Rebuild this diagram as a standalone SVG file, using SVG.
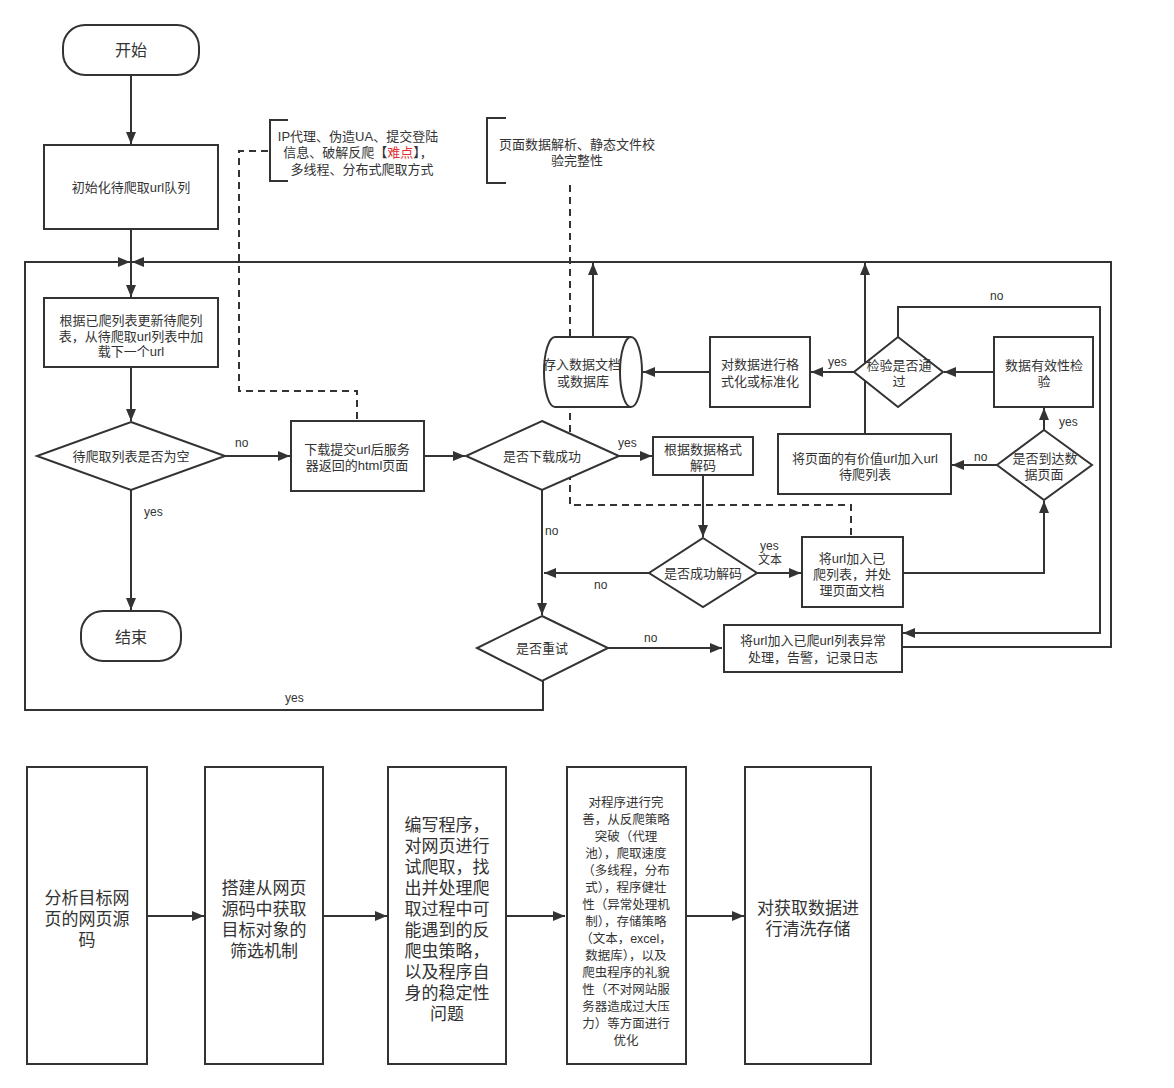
<svg xmlns="http://www.w3.org/2000/svg" width="1174" height="1088" viewBox="0 0 1174 1088">
<style>
.n{fill:#fff;stroke:#333;stroke-width:2}
.t{font-family:"Liberation Sans","Noto Sans CJK SC",sans-serif;font-size:13px;fill:#333;text-anchor:middle}
.b{font-size:17px}
.s{font-size:12.5px}
.c{fill:none;stroke:#333;stroke-width:2}
.d{fill:none;stroke:#333;stroke-width:2;stroke-dasharray:7 5}
.l{font-family:"Liberation Sans","Noto Sans CJK SC",sans-serif;font-size:12px;fill:#333}
</style>
<defs>
<marker id="a" markerWidth="12" markerHeight="10" refX="12" refY="5" orient="auto" markerUnits="userSpaceOnUse"><path d="M0,0 L12,5 L0,10 Z" fill="#333"/></marker>
</defs>
<rect width="1174" height="1088" fill="#fff"/>
<g id="connectors">
<path class="c" d="M131,75 V144" marker-end="url(#a)"/>
<path class="c" d="M131,229 V262"/>
<path class="c" d="M131,262 V297" marker-end="url(#a)"/>
<path class="c" d="M543,681 V710 H25 V262 H130" marker-end="url(#a)"/>
<path class="c" d="M902,647 H1111 V262 H132" marker-end="url(#a)"/>
<path class="c" d="M131,367 V421" marker-end="url(#a)"/>
<path class="c" d="M225,456 H290" marker-end="url(#a)"/>
<path class="c" d="M131,490 V610" marker-end="url(#a)"/>
<path class="c" d="M424,456 H465" marker-end="url(#a)"/>
<path class="c" d="M619,456 H652" marker-end="url(#a)"/>
<path class="c" d="M703,475 V537" marker-end="url(#a)"/>
<path class="c" d="M649,573 H544" marker-end="url(#a)"/>
<path class="c" d="M757,573 H801" marker-end="url(#a)"/>
<path class="c" d="M542,490 V615" marker-end="url(#a)"/>
<path class="c" d="M608,648 H722" marker-end="url(#a)"/>
<path class="c" d="M903,573 H1044 V501" marker-end="url(#a)"/>
<path class="c" d="M1044,430 V408" marker-end="url(#a)"/>
<path class="c" d="M997,465 H952" marker-end="url(#a)"/>
<path class="c" d="M993,372 H944" marker-end="url(#a)"/>
<path class="c" d="M854,372 H811" marker-end="url(#a)"/>
<path class="c" d="M710,372 H643" marker-end="url(#a)"/>
<path class="c" d="M593,337 V263" marker-end="url(#a)"/>
<path class="c" d="M865,434 V263" marker-end="url(#a)"/>
<path class="c" d="M898,337 V307 H1100 V633 H903" marker-end="url(#a)"/>
<path class="d" d="M268,151 H239 V391 H357 V420"/>
<path class="d" d="M570,185 V505 H851 V536"/>
<path class="c" d="M147,916 H204" marker-end="url(#a)"/>
<path class="c" d="M323,916 H387" marker-end="url(#a)"/>
<path class="c" d="M506,916 H565" marker-end="url(#a)"/>
<path class="c" d="M686,916 H744" marker-end="url(#a)"/>
<text class="l" x="235" y="447">no</text>
<text class="l" x="144" y="516">yes</text>
<text class="l" x="618" y="447">yes</text>
<text class="l" x="545" y="535">no</text>
<text class="l" x="594" y="589">no</text>
<text class="l" x="760" y="550">yes</text>
<text class="l" x="758" y="564">文本</text>
<text class="l" x="644" y="642">no</text>
<text class="l" x="285" y="702">yes</text>
<text class="l" x="828" y="366">yes</text>
<text class="l" x="990" y="300">no</text>
<text class="l" x="1059" y="426">yes</text>
<text class="l" x="974" y="461">no</text>
</g>
<g id="start"><rect class="n" x="63" y="25" width="136" height="50" rx="22"/><text class="t" style="font-size:16px" x="131" y="56">开始</text></g>
<g id="init"><rect class="n" x="44" y="145" width="174" height="84"/><text class="t" x="131" y="192">初始化待爬取url队列</text></g>
<g id="note1"><path class="c" d="M288,120 H270 V181 H288"/><text class="t" x="358" y="141">IP代理、伪造UA、提交登陆</text><text class="t" x="358" y="157">信息、破解反爬【<tspan fill="#e03030">难点</tspan>】，</text><text class="t" x="362" y="174">多线程、分布式爬取方式</text></g>
<g id="note2"><path class="c" d="M506,118 H487 V183 H506"/><text class="t" x="577" y="149">页面数据解析、静态文件校</text><text class="t" x="577" y="165">验完整性</text></g>
<g id="update"><rect class="n" x="44" y="298" width="174" height="69"/><text class="t" x="131" y="325">根据已爬列表更新待爬列</text><text class="t" x="131" y="341">表，从待爬取url列表中加</text><text class="t" x="131" y="356">载下一个url</text></g>
<g id="empty"><path class="n" d="M131,422 L225,456 L131,490 L37,456 Z"/><text class="t" x="131" y="461">待爬取列表是否为空</text></g>
<g id="end"><rect class="n" x="81" y="611" width="100" height="50" rx="22"/><text class="t" style="font-size:16px" x="131" y="643">结束</text></g>
<g id="download"><rect class="n" x="291" y="421" width="133" height="70"/><text class="t" x="357" y="454">下载提交url后服务</text><text class="t" x="357" y="470">器返回的html页面</text></g>
<g id="dlok"><path class="n" d="M542,421 L619,456 L542,490 L466,456 Z"/><text class="t" x="542" y="461">是否下载成功</text></g>
<g id="decode"><rect class="n" x="653" y="437" width="100" height="38"/><text class="t" x="703" y="454">根据数据格式</text><text class="t" x="703" y="470">解码</text></g>
<g id="decodeok"><path class="n" d="M703,538 L757,573 L703,607 L649,573 Z"/><text class="t" x="703" y="578">是否成功解码</text></g>
<g id="addcrawled"><rect class="n" x="802" y="537" width="101" height="70"/><text class="t" x="852" y="563">将url加入已</text><text class="t" x="852" y="579">爬列表，并处</text><text class="t" x="852" y="595">理页面文档</text></g>
<g id="retry"><path class="n" d="M542,616 L608,648 L542,681 L477,648 Z"/><text class="t" x="542" y="653">是否重试</text></g>
<g id="error"><rect class="n" x="724" y="625" width="178" height="47"/><text class="t" x="813" y="645">将url加入已爬url列表异常</text><text class="t" x="813" y="662">处理，告警，记录日志</text></g>
<g id="store"><path class="n" d="M555,337 H631 A11,35 0 0 1 631,407 H555 A11,35 0 0 1 555,337 Z"/><path class="c" d="M631,337 A11,35 0 0 0 631,407"/><text class="t" x="582" y="369">存入数据文档</text><text class="t" x="583" y="386">或数据库</text></g>
<g id="format"><rect class="n" x="710" y="337" width="100" height="70"/><text class="t" x="760" y="369">对数据进行格</text><text class="t" x="760" y="386">式化或标准化</text></g>
<g id="checkok"><path class="n" d="M898,337 L943,372 L898,407 L854,372 Z"/><text class="t" x="899" y="370">检验是否通</text><text class="t" x="899" y="386">过</text></g>
<g id="validate"><rect class="n" x="994" y="337" width="99" height="70"/><text class="t" x="1044" y="370">数据有效性检</text><text class="t" x="1044" y="386">验</text></g>
<g id="isdata"><path class="n" d="M1044,430 L1092,465 L1044,500 L997,465 Z"/><text class="t" x="1045" y="463">是否到达数</text><text class="t" x="1044" y="479">据页面</text></g>
<g id="addurl"><rect class="n" x="778" y="434" width="173" height="60"/><text class="t" x="865" y="463">将页面的有价值url加入url</text><text class="t" x="865" y="479">待爬列表</text></g>
<g id="step1"><rect class="n" x="27" y="767" width="120" height="297"/><text class="t b" x="87" y="904">分析目标网</text><text class="t b" x="87" y="925">页的网页源</text><text class="t b" x="87" y="946">码</text></g>
<g id="step2"><rect class="n" x="205" y="767" width="118" height="297"/><text class="t b" x="264" y="894">搭建从网页</text><text class="t b" x="264" y="915">源码中获取</text><text class="t b" x="264" y="936">目标对象的</text><text class="t b" x="264" y="957">筛选机制</text></g>
<g id="step3"><rect class="n" x="388" y="767" width="118" height="297"/><text class="t b" x="447" y="831">编写程序，</text><text class="t b" x="447" y="852">对网页进行</text><text class="t b" x="447" y="873">试爬取，找</text><text class="t b" x="447" y="894">出并处理爬</text><text class="t b" x="447" y="915">取过程中可</text><text class="t b" x="447" y="936">能遇到的反</text><text class="t b" x="447" y="957">爬虫策略，</text><text class="t b" x="447" y="978">以及程序自</text><text class="t b" x="447" y="999">身的稳定性</text><text class="t b" x="447" y="1020">问题</text></g>
<g id="step4"><rect class="n" x="567" y="767" width="119" height="297"/><text class="t s" x="626" y="807">对程序进行完</text><text class="t s" x="626" y="824">善，从反爬策略</text><text class="t s" x="626" y="841">突破（代理</text><text class="t s" x="626" y="858">池），爬取速度</text><text class="t s" x="626" y="875">（多线程，分布</text><text class="t s" x="626" y="892">式），程序健壮</text><text class="t s" x="626" y="909">性（异常处理机</text><text class="t s" x="626" y="926">制），存储策略</text><text class="t s" x="626" y="943">（文本，excel，</text><text class="t s" x="626" y="960">数据库），以及</text><text class="t s" x="626" y="977">爬虫程序的礼貌</text><text class="t s" x="626" y="994">性（不对网站服</text><text class="t s" x="626" y="1011">务器造成过大压</text><text class="t s" x="626" y="1028">力）等方面进行</text><text class="t s" x="626" y="1045">优化</text></g>
<g id="step5"><rect class="n" x="745" y="767" width="126" height="297"/><text class="t b" x="808" y="914">对获取数据进</text><text class="t b" x="808" y="935">行清洗存储</text></g>
</svg>
